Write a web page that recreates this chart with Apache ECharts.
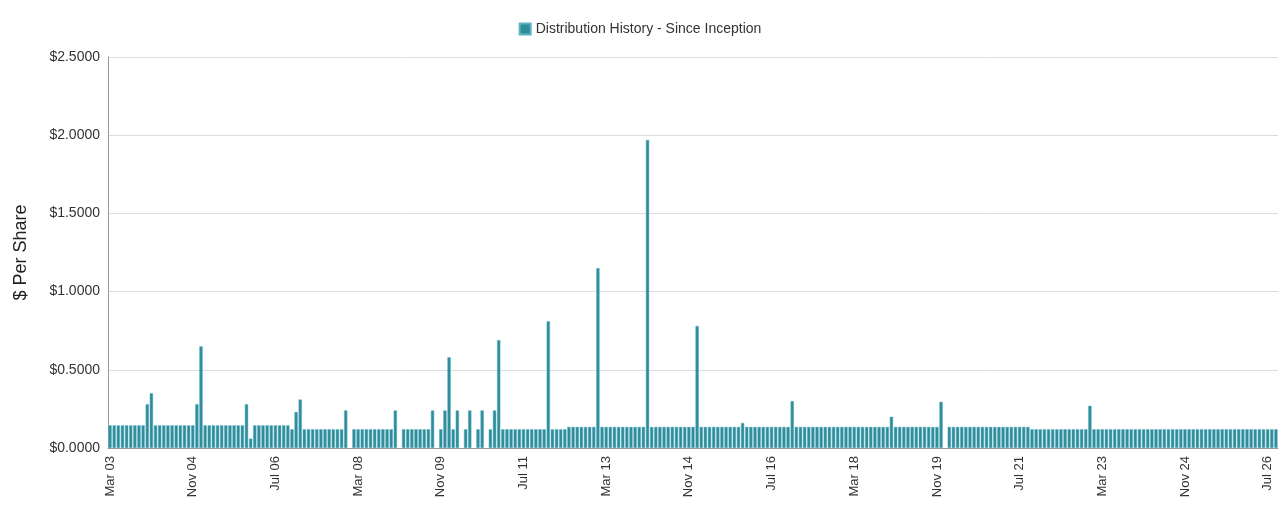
<!DOCTYPE html>
<html>
<head>
<meta charset="utf-8">
<script src="https://cdn.jsdelivr.net/npm/echarts@6/dist/echarts.min.js"></script>
<style>html,body{margin:0;padding:0;background:#fff}#chart{width:1280px;height:512px}</style>
</head>
<body>
<div id="chart"></div>
<script>
// monthly categories, Mar 03 .. Sep 26
const monthNames = ['Jan', 'Feb', 'Mar', 'Apr', 'May', 'Jun', 'Jul', 'Aug', 'Sep', 'Oct', 'Nov', 'Dec']
const categories = []
for (let y = 2003, m = 2; y < 2026 || m <= 8; m++) {
  if (m > 11) { m = 0; y++ }
  categories.push(monthNames[m] + ' ' + String(y).slice(2))
  if (y === 2026 && m === 8) break
}

// $ per share, one value per month (null = no distribution)
const distributions = [
  0.145, 0.145, 0.145, 0.145, 0.145, 0.145, 0.145, 0.145, 0.145, 0.28, 0.35,
  0.145, 0.145, 0.145, 0.145, 0.145, 0.145, 0.145, 0.145, 0.145, 0.145, 0.28, 0.65,
  0.145, 0.145, 0.145, 0.145, 0.145, 0.145, 0.145, 0.145, 0.145, 0.145, 0.28, 0.06,
  0.145, 0.145, 0.145, 0.145, 0.145, 0.145, 0.145, 0.145, 0.145,
  0.12, 0.23, 0.31,
  0.12, 0.12, 0.12, 0.12, 0.12, 0.12, 0.12, 0.12, 0.12, 0.12, 0.24, null,
  0.12, 0.12, 0.12, 0.12, 0.12, 0.12, 0.12, 0.12, 0.12, 0.12, 0.24, null,
  0.12, 0.12, 0.12, 0.12, 0.12, 0.12, 0.12, 0.24, null,
  0.12, 0.24, 0.58, 0.12, 0.24, null, 0.12, 0.24, null, 0.12, 0.24, null, 0.12, 0.24, 0.69,
  0.12, 0.12, 0.12, 0.12, 0.12, 0.12, 0.12, 0.12, 0.12, 0.12, 0.12, 0.81,
  0.12, 0.12, 0.12, 0.12,
  0.135, 0.135, 0.135, 0.135, 0.135, 0.135, 0.135, 1.15,
  0.135, 0.135, 0.135, 0.135, 0.135, 0.135, 0.135, 0.135, 0.135, 0.135, 0.135, 1.97,
  0.135, 0.135, 0.135, 0.135, 0.135, 0.135, 0.135, 0.135, 0.135, 0.135, 0.135, 0.78,
  0.135, 0.135, 0.135, 0.135, 0.135, 0.135, 0.135, 0.135, 0.135, 0.135, 0.16,
  0.135, 0.135, 0.135, 0.135, 0.135, 0.135, 0.135, 0.135, 0.135, 0.135, 0.135, 0.30,
  0.135, 0.135, 0.135, 0.135, 0.135, 0.135, 0.135, 0.135, 0.135, 0.135, 0.135, 0.135,
  0.135, 0.135, 0.135, 0.135, 0.135, 0.135, 0.135, 0.135, 0.135, 0.135, 0.135, 0.20,
  0.135, 0.135, 0.135, 0.135, 0.135, 0.135, 0.135, 0.135, 0.135, 0.135, 0.135, 0.295, null,
  0.135, 0.135, 0.135, 0.135, 0.135, 0.135, 0.135, 0.135, 0.135, 0.135,
  0.135, 0.135, 0.135, 0.135, 0.135, 0.135, 0.135, 0.135, 0.135, 0.135,
  0.12, 0.12, 0.12, 0.12, 0.12, 0.12, 0.12, 0.12, 0.12, 0.12, 0.12, 0.12, 0.12, 0.12, 0.27,
  0.12, 0.12, 0.12, 0.12, 0.12, 0.12, 0.12, 0.12, 0.12, 0.12, 0.12, 0.12, 0.12, 0.12, 0.12,
  0.12, 0.12, 0.12, 0.12, 0.12, 0.12, 0.12, 0.12, 0.12, 0.12, 0.12, 0.12, 0.12, 0.12, 0.12,
  0.12, 0.12, 0.12, 0.12, 0.12, 0.12, 0.12, 0.12, 0.12, 0.12, 0.12, 0.12, 0.12, 0.12, 0.12
]

const chart = echarts.init(document.getElementById('chart'))
const option = {
  animation: false,
  textStyle: { fontFamily: 'Arial, "Liberation Sans", sans-serif' },
  legend: {
    top: 17,
    left: 'center',
    icon: 'rect',
    itemWidth: 11,
    itemHeight: 11,
    textStyle: { fontSize: 14, color: '#333' }
  },
  grid: { left: 108, right: 2, top: 57, bottom: 64 },
  xAxis: {
    type: 'category',
    data: categories,
    axisLine: { lineStyle: { color: '#999' } },
    axisTick: { interval: 0, length: 5, lineStyle: { color: '#aaa' } },
    axisLabel: { interval: 19, rotate: 90, fontSize: 13, color: '#333' }
  },
  yAxis: {
    type: 'value',
    min: 0,
    max: 2.5,
    interval: 0.5,
    name: '$ Per Share',
    nameLocation: 'middle',
    nameGap: 78,
    nameTextStyle: { fontSize: 18, color: '#222' },
    axisLine: { show: true, lineStyle: { color: '#999' } },
    axisTick: { show: false },
    splitLine: { lineStyle: { color: '#ddd' } },
    axisLabel: { fontSize: 14, color: '#333', formatter: v => '$' + v.toFixed(4) }
  },
  series: [{
    name: 'Distribution History - Since Inception',
    type: 'bar',
    data: distributions,
    barCategoryGap: '20%',
    itemStyle: { color: '#2f8c9b', borderColor: '#5fb3c0', borderWidth: 0.5 }
  }]
}
chart.setOption(option)
</script>
</body>
</html>
